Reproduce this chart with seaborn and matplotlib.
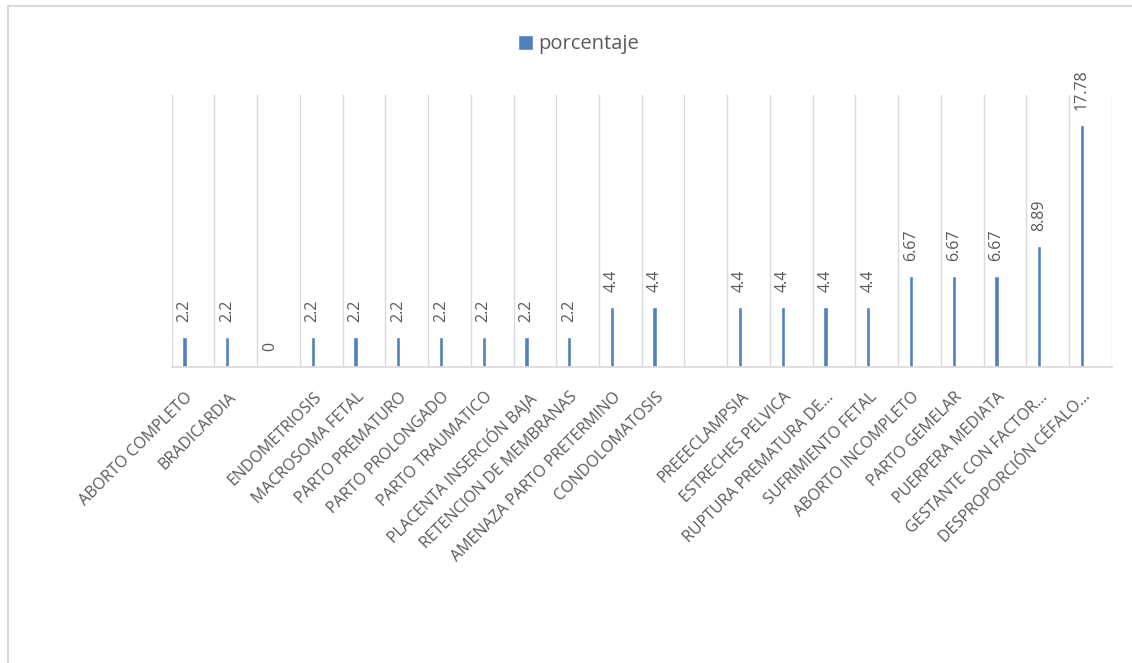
import matplotlib.pyplot as plt
import matplotlib.transforms as mtransforms
import seaborn as sns
import numpy as np
import pandas as pd

# data -----------------------------
categories = [
    'ABORTO COMPLETO', 'BRADICARDIA', '', 'ENDOMETRIOSIS', 'MACROSOMA FETAL',
    'PARTO PREMATURO', 'PARTO PROLONGADO', 'PARTO TRAUMATICO',
    'PLACENTA INSERCIÓN BAJA', 'RETENCION DE MEMBRANAS',
    'AMENAZA PARTO PRETERMINO', 'CONDOLOMATOSIS', '', 'PREEECLAMPSIA',
    'ESTRECHES PELVICA', 'RUPTURA PREMATURA DE…', 'SUFRIMIENTO FETAL',
    'ABORTO INCOMPLETO', 'PARTO GEMELAR', 'PUERPERA MEDIATA',
    'GESTANTE CON FACTOR…', 'DESPROPORCIÓN CÉFALO…',
]
porcentaje = [2.2, 2.2, 0, 2.2, 2.2, 2.2, 2.2, 2.2, 2.2, 2.2, 4.4, 4.4,
              np.nan, 4.4, 4.4, 4.4, 4.4, 6.67, 6.67, 6.67, 8.89, 17.78]

sns.set_style('white')
plt.rcParams['font.family'] = ['Open Sans', 'DejaVu Sans']

grey = '#595959'
blue = '#4F81BD'
n = len(categories)
df = pd.DataFrame({'pos': range(n), 'porcentaje': porcentaje})

fig = plt.figure(figsize=(11.32, 6.63), dpi=100)
ax = fig.add_axes([0.1517, 0.4469, 0.8304, 0.4098])

sns.barplot(data=df, x='pos', y='porcentaje', order=list(range(n)),
            color=blue, saturation=1, width=0.1, label='porcentaje', ax=ax)

# excel puts the single series left of the category centre
shift = -0.2
for p in ax.patches:
    p.set_x(p.get_x() + shift)

# value labels
for p in ax.patches:
    h = p.get_height()
    if np.isnan(h):
        continue
    ax.annotate(f'{h:g}', (p.get_x() + p.get_width() / 2, h),
                xytext=(0, 11), textcoords='offset points',
                rotation=90, ha='center', va='bottom',
                fontsize=11.5, color=grey)

ax.set_xlim(-0.5, n - 0.5)
ax.set_ylim(0, 20)
ax.set_yticks([])
ax.set_xlabel('')
ax.set_ylabel('')

# vertical gridlines at category borders
ax.set_xticks(np.arange(-0.5, n, 1), minor=True)
ax.grid(which='minor', axis='x', color='#D9D9D9', lw=1)
ax.tick_params(which='both', length=0)
ax.tick_params(axis='x', which='major', pad=16)

ax.set_xticks(range(n))
ax.set_xticklabels(categories, rotation=45, ha='right',
                   rotation_mode='anchor', fontsize=11.5, color=grey)
offset = mtransforms.ScaledTranslation(-8 / 100, 0, fig.dpi_scale_trans)
for lab in ax.get_xticklabels():
    lab.set_transform(lab.get_transform() + offset)

for s in ['left', 'right', 'top']:
    ax.spines[s].set_visible(False)
ax.spines['bottom'].set_color('#D9D9D9')
ax.spines['bottom'].set_linewidth(1.2)

leg = ax.legend(loc='center', bbox_to_anchor=(0.511, 0.933),
                bbox_transform=fig.transFigure, frameon=False,
                handlelength=0.75, handleheight=0.75, handletextpad=0.3,
                fontsize=14.5)
for t in leg.get_texts():
    t.set_color(grey)

# outer chart border (only left and top edges are inside the picture)
x0, y0 = 7.5 / 1132, 1 - 5.5 / 663
fig.add_artist(plt.Line2D([x0, x0], [0, y0], color='#D9D9D9', lw=1.5,
                          transform=fig.transFigure))
fig.add_artist(plt.Line2D([x0, 1], [y0, y0], color='#D9D9D9', lw=1.5,
                          transform=fig.transFigure))

fig.savefig('out.png', dpi=100)
